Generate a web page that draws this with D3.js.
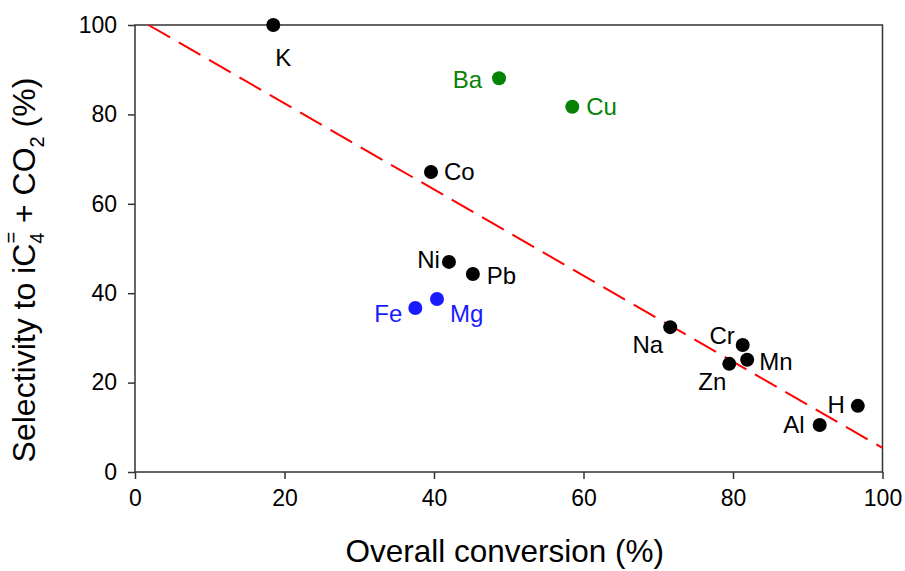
<!DOCTYPE html>
<html>
<head>
<meta charset="utf-8">
<script src="https://cdn.jsdelivr.net/npm/d3@7"></script>
<style>
  body { margin: 0; background: #fff; }
  text { font-family: "Liberation Sans", Arial, sans-serif; }
</style>
</head>
<body>
<svg id="chart" width="905" height="571"></svg>
<script>
// data
var elements = ["K", "Ba", "Cu", "Co", "Ni", "Pb", "Fe", "Mg", "Na", "Cr", "Mn", "Zn", "H", "Al"];
var conversion = [18.5, 48.7, 58.5, 39.6, 42.0, 45.2, 37.5, 40.4, 71.6, 81.3, 81.9, 79.5, 96.7, 91.6];
var selectivity = [100, 88.1, 81.7, 67.1, 47.0, 44.3, 36.7, 38.7, 32.4, 28.4, 25.1, 24.2, 14.8, 10.5];
var group = ["k", "g", "g", "k", "k", "k", "b", "b", "k", "k", "k", "k", "k", "k"];
var trendX = [1.8, 100];
var trendY = [100, 5.4];
var xTicks = [0, 20, 40, 60, 80, 100];
var yTicks = [0, 20, 40, 60, 80, 100];

// label placement relative to the marker: [dx, dy, anchor]
var labelPos = {
    K: [10, 41, "middle"], Ba: [-17, 10, "end"], Cu: [14, 8, "start"], Co: [13, 8, "start"],
    Ni: [-9, 6, "end"], Pb: [14, 10, "start"], Fe: [-13, 14, "end"], Mg: [13, 23, "start"],
    Na: [-7, 26, "end"], Cr: [-8, -1, "end"], Mn: [12, 10, "start"], Zn: [-3, 26, "end"],
    H: [-13, 7, "end"], Al: [-15, 8, "end"]
};
var colors = { k: "#000000", g: "#068206", b: "#1a1aff" };

var margin = { top: 25, right: 22.5, bottom: 99, left: 135 },
    width = 905 - margin.left - margin.right,
    height = 571 - margin.top - margin.bottom;

var svg = d3.select("#chart");
var g = svg.append("g").attr("transform", "translate(" + margin.left + "," + margin.top + ")");

var x = d3.scaleLinear().domain([0, 100]).range([0, width]);
var y = d3.scaleLinear().domain([0, 100]).range([height, 0]);

//Axes
var xAxis = g.append("g")
    .attr("transform", "translate(0," + height + ")")
    .call(d3.axisBottom(x).tickValues(xTicks).tickSize(7).tickPadding(11));
var yAxis = g.append("g")
    .call(d3.axisLeft(y).tickValues(yTicks).tickSize(7).tickPadding(11));
[xAxis, yAxis].forEach(function(a) {
    a.select(".domain").remove();
    a.selectAll("line").attr("stroke", "#333").attr("stroke-width", 1.5);
    a.selectAll("text").style("font-size", "23px").attr("fill", "#000");
});

//Frame
g.append("rect")
    .attr("x", 0).attr("y", 0)
    .attr("width", width).attr("height", height)
    .attr("fill", "none")
    .attr("stroke", "#333")
    .attr("stroke-width", 1.5);

//Trend line
var line = d3.line()
    .x(function(d) { return x(d[0]); })
    .y(function(d) { return y(d[1]); });
g.append("path")
    .attr("d", line(d3.zip(trendX, trendY)))
    .attr("fill", "none")
    .attr("stroke", "#ff0000")
    .attr("stroke-width", 2)
    .attr("stroke-dasharray", "25,10");

//Points
var pts = elements.map(function(e, i) {
    return { name: e, cx: conversion[i], sy: selectivity[i], c: colors[group[i]] };
});
g.selectAll(".dot")
    .data(pts)
    .enter().append("circle")
    .attr("class", "dot")
    .attr("cx", function(d) { return x(d.cx); })
    .attr("cy", function(d) { return y(d.sy); })
    .attr("r", 7)
    .attr("fill", function(d) { return d.c; });

g.selectAll(".lbl")
    .data(pts)
    .enter().append("text")
    .attr("class", "lbl")
    .attr("x", function(d) { return x(d.cx) + labelPos[d.name][0]; })
    .attr("y", function(d) { return y(d.sy) + labelPos[d.name][1]; })
    .attr("text-anchor", function(d) { return labelPos[d.name][2]; })
    .style("font-size", "24px")
    .attr("fill", function(d) { return d.c; })
    .text(function(d) { return d.name; });

//Axis titles
svg.append("text")
    .attr("x", margin.left + width / 2 - 4)
    .attr("y", 562)
    .attr("text-anchor", "middle")
    .style("font-size", "31.5px")
    .text("Overall conversion (%)");

var yt = svg.append("text")
    .attr("transform", "translate(35,270) rotate(-90)")
    .attr("text-anchor", "middle")
    .style("font-size", "32px");
yt.append("tspan").text("Selectivity to iC");
yt.append("tspan").attr("dy", 9).style("font-size", "20px").text("4");
yt.append("tspan").attr("dx", -11).attr("dy", -26).style("font-size", "20px").text("=");
yt.append("tspan").attr("dy", 17).text(" + CO");
yt.append("tspan").attr("dy", 9).style("font-size", "20px").text("2");
yt.append("tspan").attr("dy", -9).text(" (%)");
</script>
</body>
</html>
